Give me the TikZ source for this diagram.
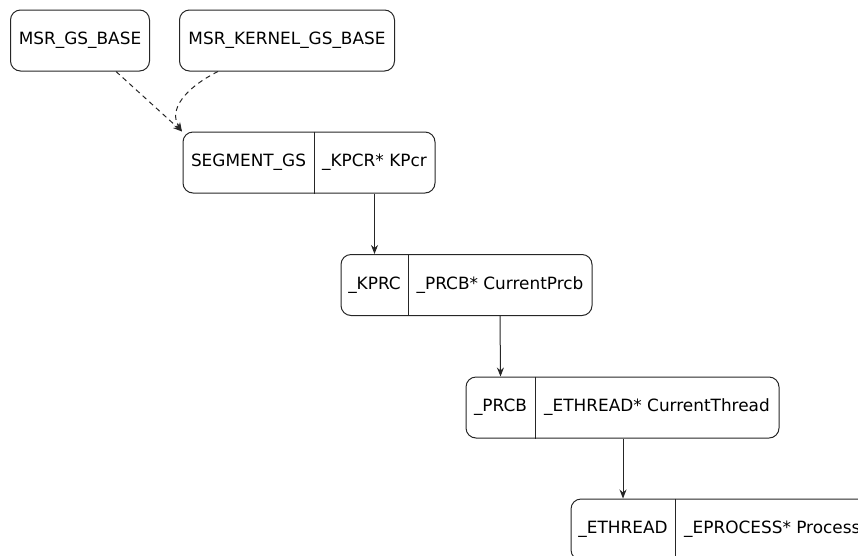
\documentclass[tikz,border=0pt]{standalone}
\usepackage{fontspec}
\setmainfont{DejaVu Sans}
\usetikzlibrary{arrows.meta}
\begin{document}
\begin{tikzpicture}[x=1pt,y=-1pt,
  box/.style={draw=black!85, line width=1pt, rounded corners=10pt, inner sep=0pt},
  lbl/.style={inner sep=0pt, font=\fontsize{16.9}{20}\selectfont},
  divider/.style={draw=black!85, line width=1pt},
  arr/.style={draw=black!85, line width=1pt, -{Stealth[length=9pt,width=7pt]}},
  dasharr/.style={arr, dashed, dash pattern=on 5pt off 4pt}]
\useasboundingbox (0,0) rectangle (858,555);
\clip (0,0) rectangle (858,555);

% simple nodes
\node[box, minimum width=139pt, minimum height=61pt] (gs) at (80,40.5) {};
\node[lbl] (gsT) at (gs.center) {MSR\_GS\_BASE};
\node[box, minimum width=215pt, minimum height=61pt] (kgs) at (287,40.5) {};
\node[lbl] (kgsT) at (kgs.center) {MSR\_KERNEL\_GS\_BASE};

% SEGMENT_GS record
\node[box, minimum width=252pt, minimum height=61pt] (seg) at (309,162.5) {};
\node[lbl] (segL) at (248.5,162.5) {SEGMENT\_GS};
\node[lbl] (segR) at (374.5,162.5) {\_KPCR* KPcr};
\draw[divider] (314,0 |- seg.north) -- (314,0 |- seg.south);

% _KPRC record
\node[box, minimum width=251pt, minimum height=61pt] (kprc) at (466.5,285) {};
\node[lbl] (kprcL) at (374.5,285) {\_KPRC};
\node[lbl] (kprcR) at (500,285) {\_PRCB* CurrentPrcb};
\draw[divider] (408,0 |- kprc.north) -- (408,0 |- kprc.south);

% _PRCB record
\node[box, minimum width=313pt, minimum height=61pt] (prcb) at (622.5,407.5) {};
\node[lbl] (prcbL) at (500.5,407.5) {\_PRCB};
\node[lbl] (prcbR) at (657,407.5) {\_ETHREAD* CurrentThread};
\draw[divider] (535,0 |- prcb.north) -- (535,0 |- prcb.south);

% _ETHREAD record (cut off by the frame)
\node[box, minimum width=380pt, minimum height=61pt] (eth) at (761,529.5) {};
\node[lbl] (ethL) at (623,529.5) {\_ETHREAD};
\node[lbl, anchor=west] (ethR) at (684,529.5) {\_EPROCESS* Process};
\draw[divider] (675,0 |- eth.north) -- (675,0 |- eth.south);

% connectors
\coordinate (segcorner) at (182,131.5);
\draw[dasharr] (116,0 |- gs.south) -- (segcorner);
\draw[dasharr] (218,0 |- kgs.south) .. controls (185,88) and (168,110) .. (segcorner);
\draw[arr] (segR |- seg.south) -- (kprcL |- kprc.north);
\draw[arr] (kprcR |- kprc.south) -- (prcbL |- prcb.north);
\draw[arr] (ethL |- prcb.south) -- (ethL |- eth.north);
\end{tikzpicture}
\end{document}
